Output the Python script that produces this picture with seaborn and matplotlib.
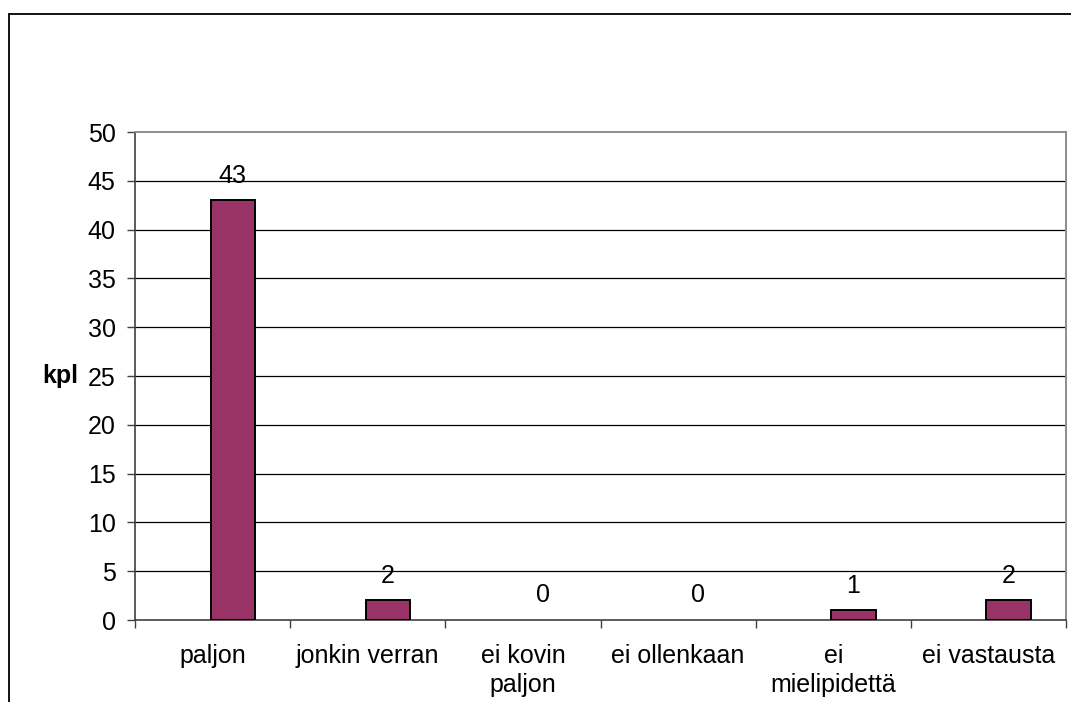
import numpy as np
import pandas as pd
import matplotlib
matplotlib.use("Agg")
import matplotlib.pyplot as plt
from matplotlib.lines import Line2D
import seaborn as sns

categories = ["paljon", "jonkin verran", "ei kovin\npaljon", "ei ollenkaan",
              "ei\nmielipidettä", "ei vastausta"]
counts = [43, 2, 0, 0, 1, 2]
y_ticks = [0, 5, 10, 15, 20, 25, 30, 35, 40, 45, 50]

sns.set_theme(style="white")
plt.rcParams["font.family"] = ["Liberation Sans", "DejaVu Sans"]
FS = 18
BAR_SHIFT = 0.13  # bars sit slightly right of the category centre

df = pd.DataFrame({"vastaus": categories, "kpl": counts})

fig = plt.figure(figsize=(10.71, 7.02), dpi=100)
fig.patch.set_facecolor("white")
ax = fig.add_axes([135 / 1071, 1 - 620 / 702, 931 / 1071, 488 / 702])

sns.barplot(data=df, x="vastaus", y="kpl", color="#993366", width=0.285,
            edgecolor="black", linewidth=1.4, saturation=1, ax=ax, zorder=3)
for p in ax.patches:
    p.set_x(p.get_x() + BAR_SHIFT)
    if p.get_height() == 0:
        p.set_linewidth(0)

ax.set_ylim(0, 50)
ax.set_xlim(-0.5, len(categories) - 0.5)
ax.set_yticks(y_ticks)
ax.set_yticklabels([str(t) for t in y_ticks], fontsize=FS, color="black")
ax.grid(False)
for t in y_ticks[1:-1]:
    ax.axhline(t, color="black", linewidth=0.9, zorder=1)

# ticks at category boundaries, labels centred between them
ax.set_xticks(np.arange(-0.5, len(categories), 1))
ax.set_xticklabels([])
ax.set_xticks(np.arange(len(categories)), minor=True)
ax.set_xticklabels(categories, minor=True, fontsize=FS, color="black",
                   linespacing=1.3)
ax.tick_params(axis="x", which="major", direction="out", length=6,
               width=1, color="#404040", bottom=True)
ax.tick_params(axis="x", which="minor", length=0, pad=17)
ax.tick_params(axis="y", direction="out", length=6, width=1,
               color="#404040", left=True, pad=8)
ax.set_xlabel("")

ax.set_ylabel("kpl", rotation=0, fontsize=FS, fontweight="bold", color="black")
ax.yaxis.set_label_coords(-0.08, 0.5)
ax.yaxis.label.set_verticalalignment("center")
ax.yaxis.label.set_horizontalalignment("center")

for side in ["left", "bottom"]:
    ax.spines[side].set_color("#404040")
    ax.spines[side].set_linewidth(1.2)
for side in ["top", "right"]:
    ax.spines[side].set_color("#8c8c8c")
    ax.spines[side].set_linewidth(1.4)
    ax.spines[side].set_visible(True)

for i, v in enumerate(counts):
    ax.annotate(str(v), xy=(i + BAR_SHIFT, v), xytext=(0, 9),
                textcoords="offset points", ha="center", va="bottom",
                fontsize=FS, color="black", zorder=4)

# chart frame around the drawing area
x0, y0 = 9 / 1071, 1 - 14 / 702
fig.add_artist(Line2D([x0, 1.0], [y0, y0], transform=fig.transFigure,
                      color="black", linewidth=1.3))
fig.add_artist(Line2D([x0, x0], [0.0, y0], transform=fig.transFigure,
                      color="black", linewidth=1.3))

fig.savefig("out.png", dpi=100, facecolor="white")
